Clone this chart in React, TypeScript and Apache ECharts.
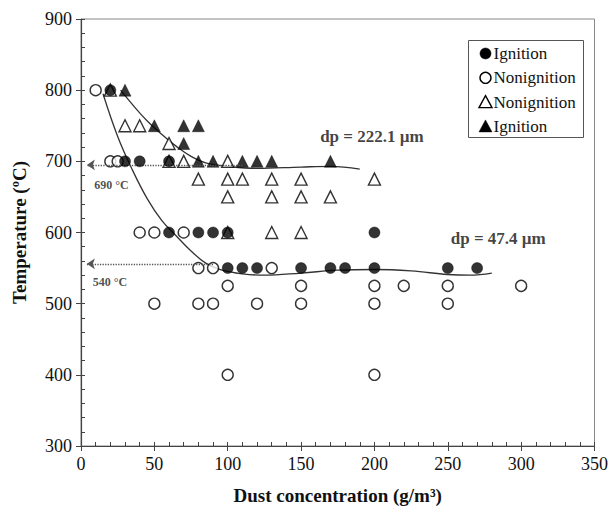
import React, { useEffect, useRef } from "react";
import * as echarts from "echarts";

// Ignition, dp = 47.4 µm (filled circles)
const ignitionCircles: number[][] = [
  [20, 800], [30, 700], [40, 700], [60, 700], [60, 600], [80, 600], [90, 600], [100, 600],
  [100, 550], [110, 550], [120, 550], [150, 550], [170, 550], [180, 550], [200, 550],
  [200, 600], [250, 550], [270, 550],
];
// Nonignition, dp = 47.4 µm (open circles)
const nonignitionCircles: number[][] = [
  [10, 800], [20, 700], [25, 700], [40, 600], [50, 600], [70, 600], [80, 550], [90, 550],
  [130, 550], [100, 525], [150, 525], [200, 525], [220, 525], [250, 525], [300, 525],
  [50, 500], [80, 500], [90, 500], [120, 500], [150, 500], [200, 500], [250, 500],
  [100, 400], [200, 400],
];
// Nonignition, dp = 222.1 µm (open triangles)
const nonignitionTriangles: number[][] = [
  [20, 800], [60, 700], [30, 750], [40, 750], [60, 725], [70, 700], [100, 700],
  [80, 675], [100, 675], [110, 675], [130, 675], [150, 675], [200, 675],
  [100, 650], [130, 650], [150, 650], [170, 650], [100, 600], [130, 600], [150, 600],
];
// Ignition, dp = 222.1 µm (filled triangles)
const ignitionTriangles: number[][] = [
  [30, 800], [50, 750], [70, 750], [80, 750], [70, 725], [80, 700], [90, 700],
  [110, 700], [120, 700], [130, 700], [170, 700],
];
// Boundary curves
const curve47: number[][] = [
  [15, 795], [25, 735], [35, 688], [45, 648], [55, 617], [65, 595], [75, 574], [85, 557],
  [95, 548], [110, 542], [125, 540], [150, 543], [175, 547], [200, 548], [225, 546],
  [250, 541], [265, 540], [280, 543],
];
const curve222: number[][] = [
  [27, 800], [35, 780], [45, 757], [55, 738], [65, 721], [75, 707], [85, 698], [100, 693],
  [120, 690], [150, 692], [170, 693], [190, 689],
];
// Arrows (from, to)
const arrow690: number[][] = [[110, 695], [4, 695]];
const arrow540: number[][] = [[90, 556], [4, 556]];
// Text annotations [x, y, text]
const annotations: (number | string)[][] = [
  [9, 667, "690 °C"],
  [8, 530, "540 °C"],
];
const dpLabels: (number | string)[][] = [
  [163, 735, "dp = 222.1 µm"],
  [252, 591, "dp = 47.4 µm"],
];
// Legend entries
const legendLabels = ["Ignition", "Nonignition", "Nonignition", "Ignition"];
const legendSymbols = ["circle", "circle", "triangle", "triangle"];
const legendFilled = [true, false, false, true];

const SERIF = "Liberation Serif";

export default function App() {
  const ref = useRef<HTMLDivElement>(null);
  useEffect(() => {
    if (!ref.current) return;
    const chart = echarts.init(ref.current, null, { renderer: "svg" });
    const axisColor = "#444";
    const openStyle = { color: "#fff", borderColor: "#000", borderWidth: 1.4 };
    const fillStyle = { color: "#000", borderColor: "#000", borderWidth: 0.5 };
    const arrowLine = (pts: number[][]) => [
      { coord: pts[0], symbol: "none" },
      { coord: pts[1], symbol: "arrow" },
    ];

    // Legend drawn as graphic elements (box + symbols + texts)
    const legendChildren: any[] = [
      {
        type: "rect",
        shape: { x: 0, y: 0, width: 115, height: 97 },
        style: { fill: "#fff", stroke: "#555", lineWidth: 1 },
      },
    ];
    legendLabels.forEach((label, i) => {
      const cy = 13 + i * 24.3;
      const cx = 17;
      const st = legendFilled[i]
        ? { fill: "#000", stroke: "#000", lineWidth: 0.5 }
        : { fill: "#fff", stroke: "#000", lineWidth: 1.4 };
      if (legendSymbols[i] === "circle") {
        legendChildren.push({ type: "circle", shape: { cx, cy, r: 5.5 }, style: st });
      } else {
        legendChildren.push({
          type: "polygon",
          shape: { points: [[cx, cy - 6.5], [cx + 6.5, cy + 5.5], [cx - 6.5, cy + 5.5]] },
          style: st,
        });
      }
      legendChildren.push({
        type: "text",
        x: 25,
        y: cy,
        style: {
          text: label,
          font: "17px 'Liberation Serif', serif",
          fill: "#111",
          verticalAlign: "middle",
          align: "left",
        },
      });
    });

    chart.setOption({
      animation: false,
      backgroundColor: "#fff",
      textStyle: { fontFamily: SERIF },
      grid: {
        left: 81, right: 14, top: 19, bottom: 63,
        show: true, borderColor: "#888", borderWidth: 1,
      },
      graphic: [
        { type: "group", left: 468, top: 40, z: 100, children: legendChildren },
      ],
      xAxis: [
        {
          type: "value", min: 0, max: 350, interval: 50, position: "bottom",
          name: "Dust concentration (g/m³)", nameLocation: "middle", nameGap: 40,
          nameTextStyle: { fontFamily: SERIF, fontWeight: "bold", fontSize: 19, color: "#111" },
          axisLine: { show: true, lineStyle: { color: axisColor, width: 1.2 } },
          axisTick: { show: true, inside: false, length: 5, lineStyle: { color: axisColor } },
          axisLabel: { fontFamily: SERIF, fontSize: 18, color: "#111", margin: 9 },
          splitLine: { show: false },
        },
        {
          type: "value", min: 0, max: 350, interval: 50, position: "bottom",
          axisLine: { show: false },
          axisTick: { show: true, inside: true, length: 4, lineStyle: { color: axisColor } },
          minorTick: { show: true, splitNumber: 5, length: 4, lineStyle: { color: axisColor } },
          axisLabel: { show: false },
          splitLine: { show: false },
        },
      ],
      yAxis: [
        {
          type: "value", min: 300, max: 900, interval: 100, position: "left",
          name: "Temperature (ºC)", nameLocation: "middle", nameGap: 52,
          nameTextStyle: { fontFamily: SERIF, fontWeight: "bold", fontSize: 19, color: "#111" },
          axisLine: { show: true, lineStyle: { color: axisColor, width: 1.2 } },
          axisTick: { show: true, inside: false, length: 5, lineStyle: { color: axisColor } },
          axisLabel: { fontFamily: SERIF, fontSize: 18, color: "#111", margin: 9 },
          splitLine: { show: false },
        },
        {
          type: "value", min: 300, max: 900, interval: 100, position: "left",
          axisLine: { show: false },
          axisTick: { show: true, inside: true, length: 4, lineStyle: { color: axisColor } },
          minorTick: { show: true, splitNumber: 5, length: 4, lineStyle: { color: axisColor } },
          axisLabel: { show: false },
          splitLine: { show: false },
        },
      ],
      series: [
        {
          name: "curve47", type: "line", data: curve47, smooth: 0.4, showSymbol: false,
          silent: true, lineStyle: { color: "#333", width: 1.3 }, z: 1,
          markLine: {
            silent: true, symbolSize: 8,
            lineStyle: { color: "#555", type: "dotted", width: 1.3 },
            label: { show: false },
            data: [arrowLine(arrow690), arrowLine(arrow540)],
          },
        },
        {
          name: "curve222", type: "line", data: curve222, smooth: 0.4, showSymbol: false,
          silent: true, lineStyle: { color: "#333", width: 1.3 }, z: 1,
        },
        {
          name: "Nonignition (222.1)", type: "scatter", symbol: "triangle", symbolSize: 12,
          data: nonignitionTriangles, itemStyle: openStyle, z: 2,
        },
        {
          name: "Ignition (222.1)", type: "scatter", symbol: "triangle", symbolSize: 12,
          data: ignitionTriangles, itemStyle: fillStyle, z: 3,
        },
        {
          name: "Nonignition (47.4)", type: "scatter", symbol: "circle", symbolSize: 11,
          data: nonignitionCircles, itemStyle: openStyle, z: 4,
        },
        {
          name: "Ignition (47.4)", type: "scatter", symbol: "circle", symbolSize: 11,
          data: ignitionCircles, itemStyle: fillStyle, z: 5,
        },
        {
          name: "tempLabels", type: "scatter", symbolSize: 0, data: annotations, silent: true,
          label: {
            show: true, position: "right", distance: 0,
            formatter: (p: any) => p.value[2],
            fontFamily: SERIF, fontWeight: "bold", fontSize: 12, color: "#222",
          },
        },
        {
          name: "dpLabels", type: "scatter", symbolSize: 0, data: dpLabels, silent: true,
          label: {
            show: true, position: "right", distance: 0,
            formatter: (p: any) => p.value[2],
            fontFamily: SERIF, fontWeight: "bold", fontSize: 17, color: "#111",
          },
        },
      ],
    });
    return () => chart.dispose();
  }, []);
  return (
    <div
      ref={ref}
      style={{ position: "fixed", left: 0, top: 0, width: 611, height: 510, background: "#fff" }}
    />
  );
}
